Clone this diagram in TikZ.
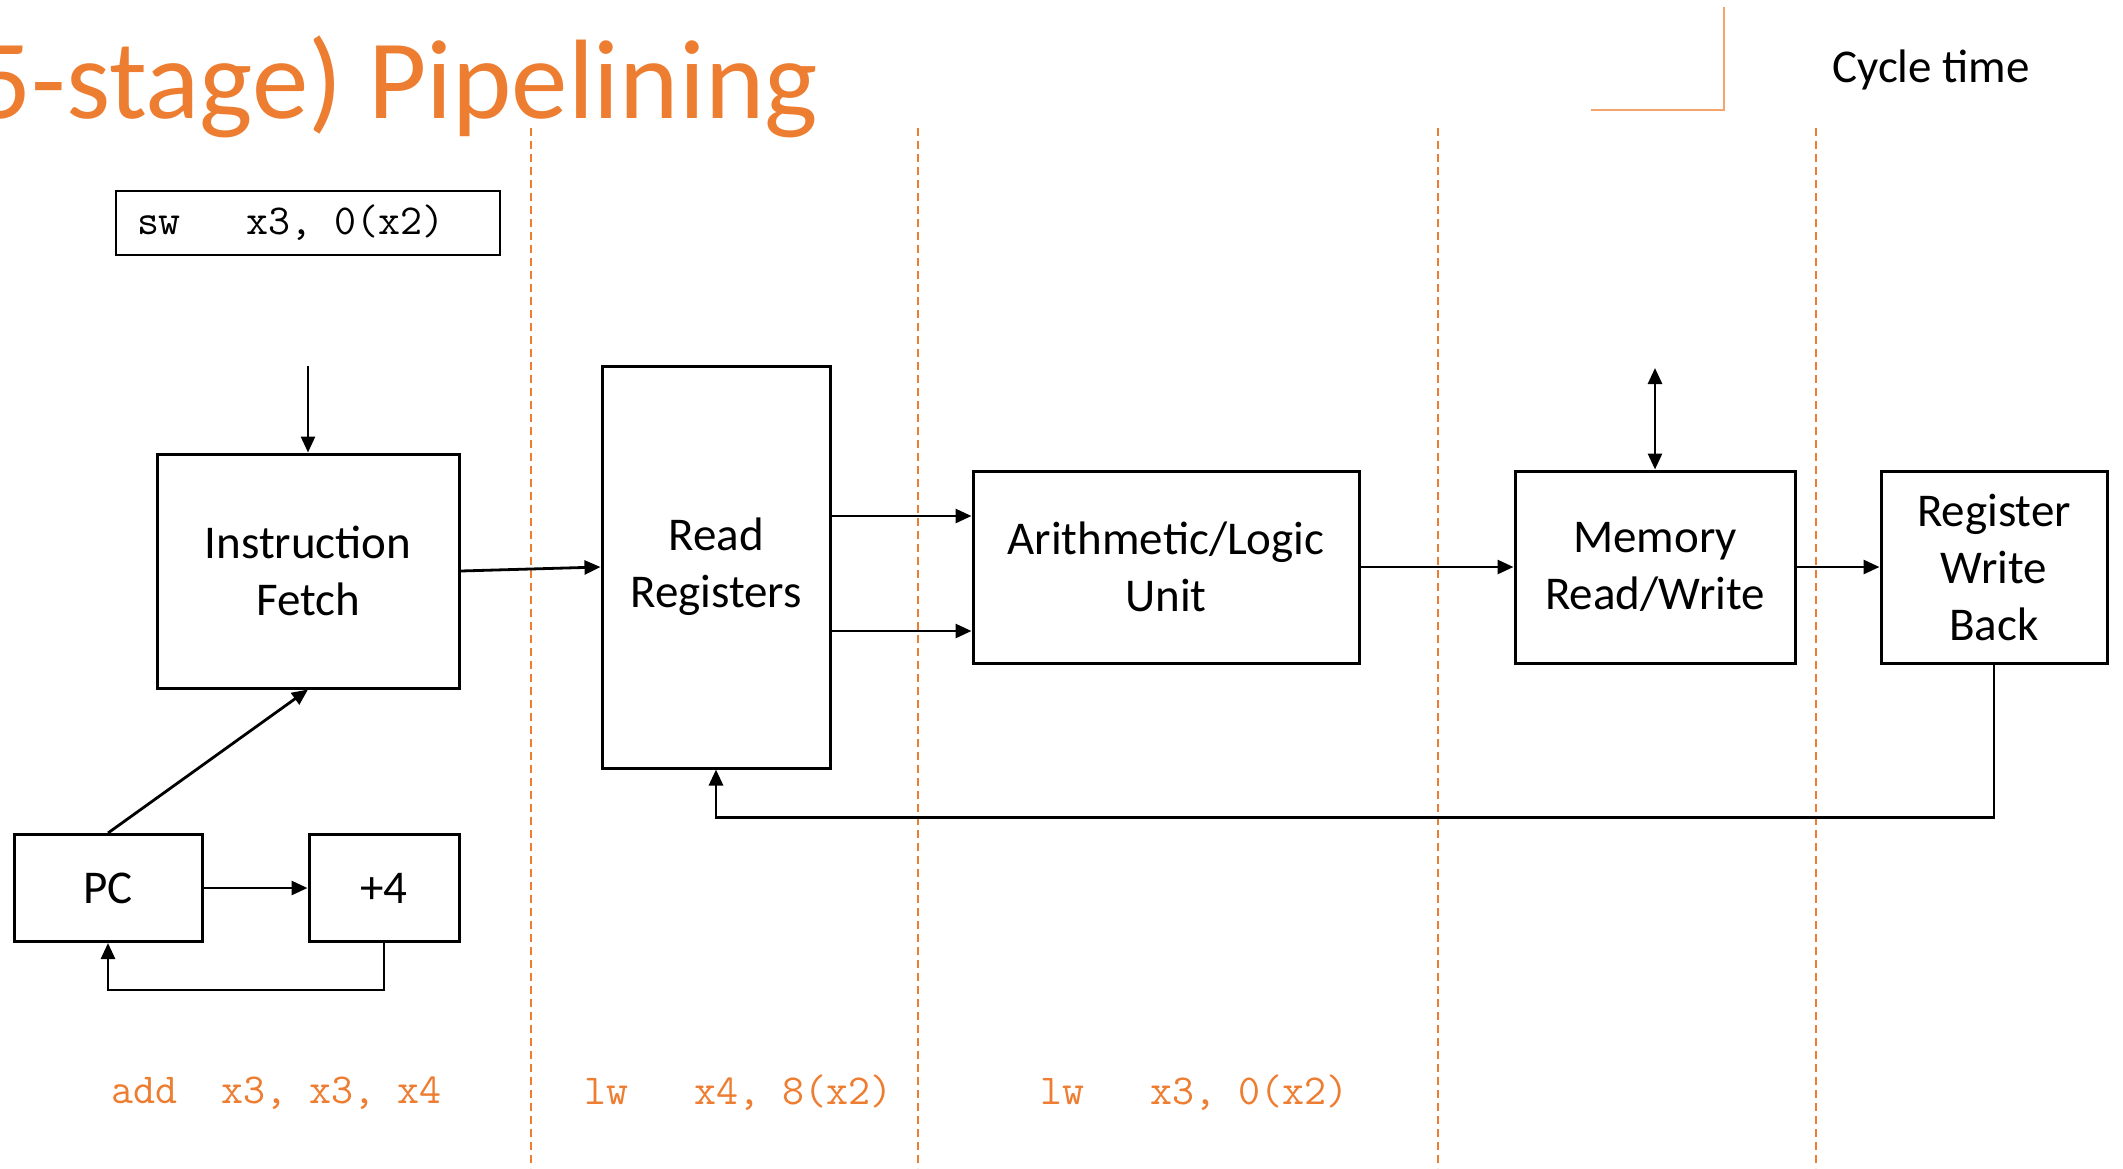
\documentclass[tikz,border=0pt]{standalone}
\usepackage{fontspec}
\setmainfont{Carlito}
\usetikzlibrary{arrows.meta}
\definecolor{accent}{HTML}{ED7D31}
\definecolor{lightacc}{HTML}{F4A46C}
\begin{document}
\begin{tikzpicture}[x=1pt,y=-1pt,
  blk/.style={draw, line width=3pt, inner sep=0pt, align=center, font=\fontsize{47}{57}\selectfont},
  conn/.style={line width=2.8pt, -{Triangle[length=16pt,width=14pt]}},
  dconn/.style={line width=2.8pt, {Triangle[length=16pt,width=14pt]}-{Triangle[length=16pt,width=14pt]}},
  stagesep/.style={draw=accent, line width=1.5pt, dash pattern=on 8pt off 5pt},
  code/.style={font=\ttfamily\fontsize{42.7}{48}\selectfont, inner sep=0pt}]
\useasboundingbox (0,0) rectangle (2123,1168);
\clip (0,0) rectangle (2123,1168);

% title and header
\node[anchor=base east, text=accent, font=\fontsize{113}{130}\selectfont, inner sep=0pt] (title) at (818,118) {(5-stage) Pipelining};
\node[font=\fontsize{47}{57}\selectfont, inner sep=0pt] (ct) at (1931,70) {Cycle time};
\draw[draw=lightacc, line width=2pt] (1591,110) -- (1724,110) -- (1724,7);

% stage separators
\foreach \xx in {531,918,1438,1816} \draw[stagesep] (\xx,128) -- (\xx,1168);

% instruction box
\node[draw, line width=2.5pt, minimum width=384, minimum height=64, code] (sw) at (308,223) {\makebox[342pt][l]{sw\ \ \ x3, 0(x2)}};

% blocks
\node[blk, minimum width=302, minimum height=234] (IF) at (308,571) {Instruction\\Fetch};
\node[blk, minimum width=228, minimum height=402] (RR) at (716,567) {Read\\Registers};
\node[blk, minimum width=386, minimum height=192] (ALU) at (1166,567) {Arithmetic/Logic\\Unit};
\node[blk, minimum width=280, minimum height=192] (MEM) at (1655,567) {Memory\\Read/Write};
\node[blk, minimum width=226, minimum height=192] (WB) at (1994,567) {Register\\Write\\Back};
\node[blk, minimum width=188, minimum height=107] (PC) at (108,888) {PC};
\node[blk, minimum width=150, minimum height=107] (P4) at (384,888) {+4};

% connectors
\coordinate (ifin) at (308,366);
\coordinate (memtop) at (1655,368);
\coordinate (ya) at (0,516);
\coordinate (yb) at (0,631);
\draw[conn] (ifin) -- (IF.north);
\draw[conn] (IF.east) -- (RR.west);
\draw[conn] (RR.east |- ya) -- (ALU.west |- ya);
\draw[conn] (RR.east |- yb) -- (ALU.west |- yb);
\draw[conn] (ALU.east) -- (MEM.west);
\draw[conn] (MEM.east) -- (WB.west);
\draw[dconn] (memtop) -- (MEM.north);
\draw[conn] (WB.south) -- ++(0,153) -| (RR.south);
\draw[conn] (PC.north) -- (IF.south);
\draw[conn] (PC.east) -- (P4.west);
\draw[conn] (P4.south) -- ++(0,47) -| (PC.south);

% in-flight instructions
\node[code, text=accent, anchor=west] (c1) at (111,1093) {add\ \ x3, x3, x4};
\node[code, text=accent, anchor=west] (c2) at (584,1093) {lw\ \ \ x4, 8(x2)};
\node[code, text=accent, anchor=west] (c3) at (1040,1093) {lw\ \ \ x3, 0(x2)};
\end{tikzpicture}
\end{document}
